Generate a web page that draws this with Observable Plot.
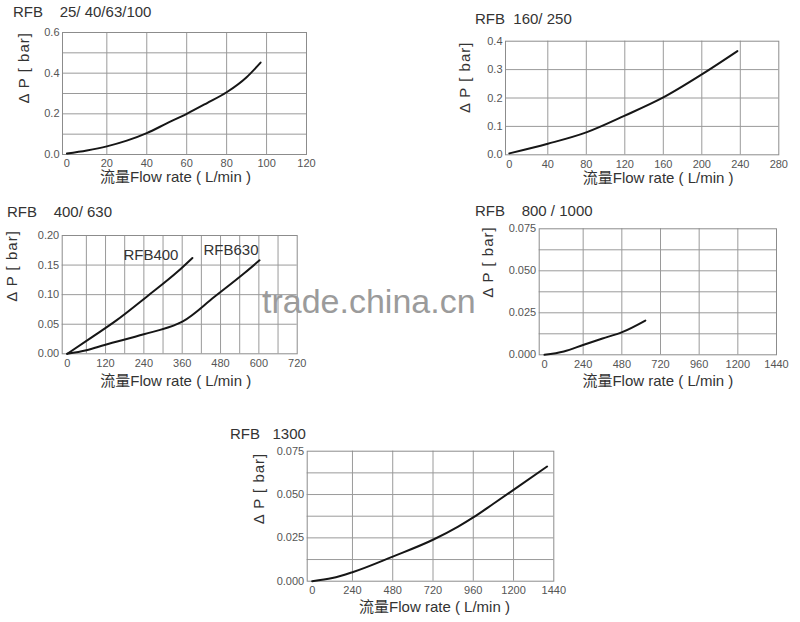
<!DOCTYPE html>
<html><head><meta charset="utf-8">
<script src="https://cdn.jsdelivr.net/npm/d3@7"></script>
<script src="https://cdn.jsdelivr.net/npm/@observablehq/plot@0.6"></script>
<style>
body{margin:0;background:#fff;}
#page{position:relative;width:800px;height:622px;overflow:hidden;background:#fff;font-family:'Liberation Sans','Noto Sans CJK SC',sans-serif;}
.title{position:absolute;font-size:15px;line-height:15px;color:#333;white-space:pre;}
.chart{position:absolute;}
.wm{position:absolute;font-size:34px;line-height:34px;color:#9b9b9b;white-space:pre;z-index:5;}
</style></head><body><div id="page"></div>
<script>
const FONT = "'Liberation Sans','Noto Sans CJK SC',sans-serif";
const titles = ["RFB    25/ 40/63/100", "RFB  160/ 250", "RFB    400/ 630", "RFB    800 / 1000", "RFB   1300"];
const yLabel = "Δ P [ bar]";
const xLabel = "流量Flow rate ( L/min )";
const watermark = "trade.china.cn";

// RFB 25/40/63/100
const flow1 = [0, 10, 20, 30, 40, 50, 60, 70, 80, 90, 97];
const dp1   = [0.005, 0.02, 0.04, 0.068, 0.105, 0.153, 0.2, 0.252, 0.306, 0.38, 0.452];
const xTicks1 = [0, 20, 40, 60, 80, 100, 120];
const yTicks1 = [0, 0.2, 0.4, 0.6];

// RFB 160/250
const flow2 = [0, 40, 80, 120, 160, 200, 237];
const dp2   = [0.005, 0.039, 0.079, 0.138, 0.202, 0.283, 0.365];
const xTicks2 = [0, 40, 80, 120, 160, 200, 240, 280];
const yTicks2 = [0, 0.1, 0.2, 0.3, 0.4];

// RFB 400/630
const flow400 = [0, 80, 153, 250, 346, 392];
const dp400   = [0, 0.029, 0.056, 0.097, 0.139, 0.162];
const flow630 = [0, 60, 117, 240, 347, 362, 460, 556, 602];
const dp630   = [0, 0.006, 0.015, 0.033, 0.051, 0.055, 0.096, 0.137, 0.158];
const xTicks3 = [0, 120, 240, 360, 480, 600, 720];
const yTicks3 = [0, 0.05, 0.10, 0.15, 0.20];

// RFB 800/1000
const flow4 = [0, 120, 244, 360, 482, 626];
const dp4   = [0, 0.002, 0.006, 0.0097, 0.0135, 0.0204];
const xTicks4 = [0, 240, 480, 720, 960, 1200, 1440];
const yTicks4 = [0, 0.025, 0.050, 0.075];

// RFB 1300
const flow5 = [0, 120, 240, 480, 720, 870, 960, 1080, 1200, 1400];
const dp5   = [0, 0.0018, 0.0052, 0.0142, 0.0239, 0.0315, 0.0368, 0.0447, 0.0527, 0.0662];
const xTicks5 = [0, 240, 480, 720, 960, 1200, 1440];
const yTicks5 = [0, 0.025, 0.050, 0.075];

const toRows = (name, xs, ys) => xs.map((x, i) => ({name, flow: x, dp: ys[i]}));

const specs = [
  {xMax:120, yMax:0.6, xStep:20, yStep:0.1, xTicks:xTicks1, yTicks:yTicks1, yFmt:".1f",
   series: toRows("RFB25", flow1, dp1), labels: []},
  {xMax:280, yMax:0.4, xStep:40, yStep:0.1, xTicks:xTicks2, yTicks:yTicks2, yFmt:".1f",
   series: toRows("RFB160", flow2, dp2), labels: []},
  {xMax:720, yMax:0.2, xStep:60, yStep:0.05, xTicks:xTicks3, yTicks:yTicks3, yFmt:".2f",
   series: [...toRows("RFB400", flow400, dp400), ...toRows("RFB630", flow630, dp630)],
   labels: [
     {text:"RFB400", flow: flow400[flow400.length-1], dp: dp400[dp400.length-1], dx:-14, dy:-3},
     {text:"RFB630", flow: flow630[flow630.length-1], dp: dp630[dp630.length-1], dx:-1, dy:-10}
   ]},
  {xMax:1440, yMax:0.075, xStep:240, yStep:0.0125, xTicks:xTicks4, yTicks:yTicks4, yFmt:".3f",
   series: toRows("RFB800", flow4, dp4), labels: []},
  {xMax:1440, yMax:0.075, xStep:240, yStep:0.0125, xTicks:xTicks5, yTicks:yTicks5, yFmt:".3f",
   series: toRows("RFB1300", flow5, dp5), labels: []}
];

const layout = [
  {left:0,   top:0,   width:320, height:195, ml:62,   mr:14,   mt:32,   mb:41,   off:4.4, ylx:-38.7, yly:10, xlx:-9, xly:27.7, tl:13,  tt:4.3},
  {left:440, top:0,   width:360, height:195, ml:65,   mr:21.7, mt:40.7, mb:40.7, off:3.8, ylx:-40,   yly:15, xlx:16, xly:27.7, tl:475, tt:10.6},
  {left:0,   top:200, width:320, height:200, ml:61.7, mr:23.3, mt:35,   mb:46.7, off:5,   ylx:-50,   yly:7,  xlx:-4, xly:31.7, tl:7,   tt:204},
  {left:440, top:200, width:360, height:200, ml:98.7, mr:24,   mt:28.3, mb:45.7, off:5.3, ylx:-50.7, yly:6,  xlx:0,  xly:30.7, tl:475, tt:203},
  {left:200, top:420, width:380, height:202, ml:106.7,mr:26.7, mt:30.7, mb:41.3, off:5,   ylx:-48.4, yly:8,  xlx:4,  xly:31,   tl:230, tt:425.6}
];

const page = document.getElementById("page");

function drawChart(spec, lay) {
  const xGrid = d3.range(1, Math.round(spec.xMax / spec.xStep)).map(i => i * spec.xStep);
  const yGrid = d3.range(1, Math.round(spec.yMax / spec.yStep)).map(i => i * spec.yStep);
  const marks = [
    Plot.ruleX(xGrid, {stroke: "#9a9a9a", strokeWidth: 1}),
    Plot.ruleY(yGrid, {stroke: "#9a9a9a", strokeWidth: 1}),
    Plot.frame({stroke: "#8c8c8c", strokeWidth: 1}),
    Plot.axisX(spec.xTicks, {tickSize: 0, tickPadding: 5, fontSize: 11, tickFormat: d => String(d), label: null}),
    Plot.axisY(spec.yTicks, {tickSize: 0, tickPadding: 3, fontSize: 11, tickFormat: d3.format(spec.yFmt), label: null}),
    Plot.line(spec.series, {x: "flow", y: "dp", z: "name", curve: "monotone-x", stroke: "#161616", strokeWidth: 2}),
    Plot.text([yLabel], {text: d => d, frameAnchor: "left", rotate: -90, dx: lay.ylx, dy: lay.yly, fontSize: 15, fill: "#333"}),
    Plot.text([xLabel], {text: d => d, frameAnchor: "bottom", dx: lay.xlx, dy: lay.xly, fontSize: 15, fill: "#333"})
  ];
  for (const lb of spec.labels) {
    marks.push(Plot.text([lb], {x: "flow", y: "dp", text: "text", textAnchor: "end", dx: lb.dx, dy: lb.dy, fontSize: 15, fill: "#333"}));
  }
  const svg = Plot.plot({
    width: lay.width, height: lay.height,
    marginLeft: lay.ml, marginRight: lay.mr, marginTop: lay.mt, marginBottom: lay.mb,
    x: {domain: [0, spec.xMax], range: [lay.ml + lay.off, lay.width - lay.mr]},
    y: {domain: [0, spec.yMax]},
    style: {fontFamily: FONT, color: "#555", background: "transparent", overflow: "visible"},
    marks
  });
  svg.querySelectorAll("text").forEach(t => { if (t.textContent === yLabel) t.style.letterSpacing = "1px"; });
  const div = document.createElement("div");
  div.className = "chart";
  div.style.left = lay.left + "px";
  div.style.top = lay.top + "px";
  div.appendChild(svg);
  page.appendChild(div);
}

specs.forEach((s, i) => {
  const lay = layout[i];
  const t = document.createElement("div");
  t.className = "title";
  t.textContent = titles[i];
  t.style.left = lay.tl + "px";
  t.style.top = lay.tt + "px";
  page.appendChild(t);
  drawChart(s, lay);
});

const wm = document.createElement("div");
wm.className = "wm";
wm.textContent = watermark;
wm.style.left = "262px";
wm.style.top = "284px";
page.appendChild(wm);
</script></body></html>
